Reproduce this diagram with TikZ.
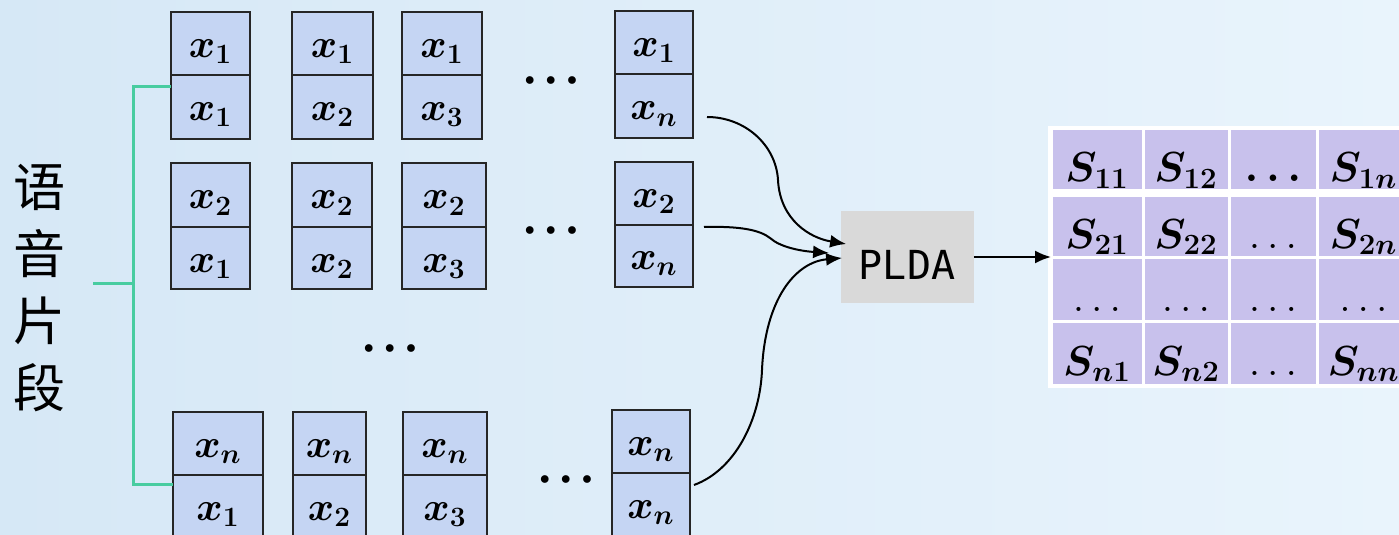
\RequirePackage{fix-cm}
\documentclass[tikz,border=0pt]{standalone}
\usepackage{fontspec}
\newfontfamily\cjkfont{Noto Sans CJK SC}
\newfontfamily\pldafont{DejaVu Sans Mono}
\usetikzlibrary{arrows.meta}

\definecolor{cellblue}{RGB}{197,213,243}
\definecolor{matlav}{RGB}{200,193,236}
\definecolor{plgray}{RGB}{217,217,217}
\definecolor{brgreen}{RGB}{72,204,160}
\definecolor{bgl}{RGB}{214,232,246}
\definecolor{bgr}{RGB}{233,244,252}

\tikzset{
  cell/.style={draw=black!85, line width=1pt, fill=cellblue, inner sep=0pt, outer sep=0pt,
    anchor=north west, font=\fontsize{20}{24}\selectfont\boldmath, text height=15pt, text depth=1pt},
  mcell/.style={draw=white, line width=1.5pt, fill=matlav, inner sep=0pt, outer sep=0pt,
    anchor=north west, font=\fontsize{21}{25}\selectfont\boldmath, text height=23pt, text depth=1pt},
  thin/.style={font=\fontsize{21}{25}\selectfont},
  dotsnode/.style={font=\fontsize{10}{12}\selectfont, inner sep=0pt},
  conn/.style={line width=1pt, -{Latex[length=8pt,width=6.5pt]}},
  bracket/.style={draw=brgreen, line width=1.5pt},
  pldabox/.style={fill=plgray, minimum width=66.5pt, minimum height=46pt, inner sep=0pt,
    font=\pldafont\fontsize{20}{24}\selectfont, text height=22pt, text depth=0pt},
}

\newcommand\pairbox[8]{%
  \node[cell, minimum width={(#3-#2)*0.5pt}, minimum height={(#5-#4)*0.5pt}] (#1a) at (#2,#4) {$#7$};
  \node[cell, minimum width={(#3-#2)*0.5pt}, minimum height={(#6-#5)*0.5pt}] (#1b) at (#2,#5) {$#8$};
}
\newcommand\mcell[7]{%
  \node[mcell, #7, minimum width={(#3-#2)*0.5pt}, minimum height={(#5-#4)*0.5pt}] (#1) at (#2,#4) {#6};
}
\newcommand\threedots{$\bullet\kern3.4pt\bullet\kern3.4pt\bullet$}

\begin{document}
\begin{tikzpicture}[x=0.5pt,y=-0.5pt]
\useasboundingbox (0,0) rectangle (1399,535);
\shade[left color=bgl, right color=bgr] (0,0) rectangle (1399,535);

% title
\node[font=\cjkfont\fontsize{26}{33.5}\selectfont, align=center, inner sep=0pt] (title) at (39,288) {语\\音\\片\\段};

% pairs row 1
\pairbox{r1c1}{171}{250}{12}{75}{139}{x_1}{x_1}
\pairbox{r1c2}{292}{373}{12}{75}{139}{x_1}{x_2}
\pairbox{r1c3}{402}{482}{12}{75}{139}{x_1}{x_3}
\pairbox{r1c4}{615}{693}{11}{74}{138}{x_1}{x_n}
% row 2
\pairbox{r2c1}{171}{250}{163}{227}{289}{x_2}{x_1}
\pairbox{r2c2}{292}{372}{163}{227}{289}{x_2}{x_2}
\pairbox{r2c3}{402}{486}{163}{227}{289}{x_2}{x_3}
\pairbox{r2c4}{615}{693}{162}{225}{287}{x_2}{x_n}
% row 3
\pairbox{r3c1}{173}{263}{412}{475}{538}{x_n}{x_1}
\pairbox{r3c2}{293}{366}{412}{475}{538}{x_n}{x_2}
\pairbox{r3c3}{403}{487}{412}{475}{538}{x_n}{x_3}
\pairbox{r3c4}{612}{690}{410}{473}{536}{x_n}{x_n}

% dots
\node[dotsnode] (d1) at (551,81) {\threedots};
\node[dotsnode] (d2) at (551,231) {\threedots};
\node[dotsnode] (d3) at (390,349) {\threedots};
\node[dotsnode] (d4) at (566,480) {\threedots};

% bracket
\coordinate (bt) at (133,87);
\coordinate (bb) at (133,484);
\coordinate (bm) at (133,283);
\coordinate (bl) at (93,283);
\draw[bracket] (r1c1b.west |- bt) -- (bt) -- (bb) -- (r3c1b.west |- bb);
\draw[bracket] (bm) -- (bl);

% PLDA
\node[pldabox] (PLDA) at (907,257) {PLDA};

% matrix
\fill[white] (1048,126) rectangle (1412,388);
\mcell{m11}{1051}{1143}{129}{191}{$S_{11}$}{}
\mcell{m12}{1143}{1229}{129}{191}{$S_{12}$}{}
\mcell{m13}{1229}{1317}{129}{191}{$\dots$}{}
\mcell{m14}{1317}{1410}{129}{191}{$S_{1n}$}{}
\mcell{m21}{1051}{1143}{196}{257}{$S_{21}$}{}
\mcell{m22}{1143}{1229}{196}{257}{$S_{22}$}{}
\mcell{m23}{1229}{1317}{196}{257}{$\dots$}{thin}
\mcell{m24}{1317}{1410}{196}{257}{$S_{2n}$}{}
\mcell{m31}{1051}{1143}{257}{321}{$\dots$}{thin}
\mcell{m32}{1143}{1229}{257}{321}{$\dots$}{thin}
\mcell{m33}{1229}{1317}{257}{321}{$\dots$}{thin}
\mcell{m34}{1317}{1410}{257}{321}{$\dots$}{thin}
\mcell{m41}{1051}{1143}{321}{385}{$S_{n1}$}{}
\mcell{m42}{1143}{1229}{321}{385}{$S_{n2}$}{}
\mcell{m43}{1229}{1317}{321}{385}{$\dots$}{thin}
\mcell{m44}{1317}{1410}{321}{385}{$S_{nn}$}{}

% connectors
\coordinate (s1) at (707,117);
\coordinate (s2) at (704,227);
\coordinate (s3) at (694,485);
\draw[conn] (s1) .. controls (745,117) and (776,145) .. (778,180)
  .. controls (780,220) and (810,238) .. ([shift={(6,-13)}]PLDA.west);
\draw[conn] (s2) .. controls (740,226) and (760,230) .. (770,238)
  .. controls (780,247) and (800,251) .. ([shift={(-11,-4)}]PLDA.west);
\draw[conn] (s3) .. controls (735,470) and (760,420) .. (762,370)
  .. controls (765,300) and (795,262) .. ([shift={(2,1)}]PLDA.west);
\draw[conn] (PLDA.east) -- (m31.north west);
\end{tikzpicture}
\end{document}
